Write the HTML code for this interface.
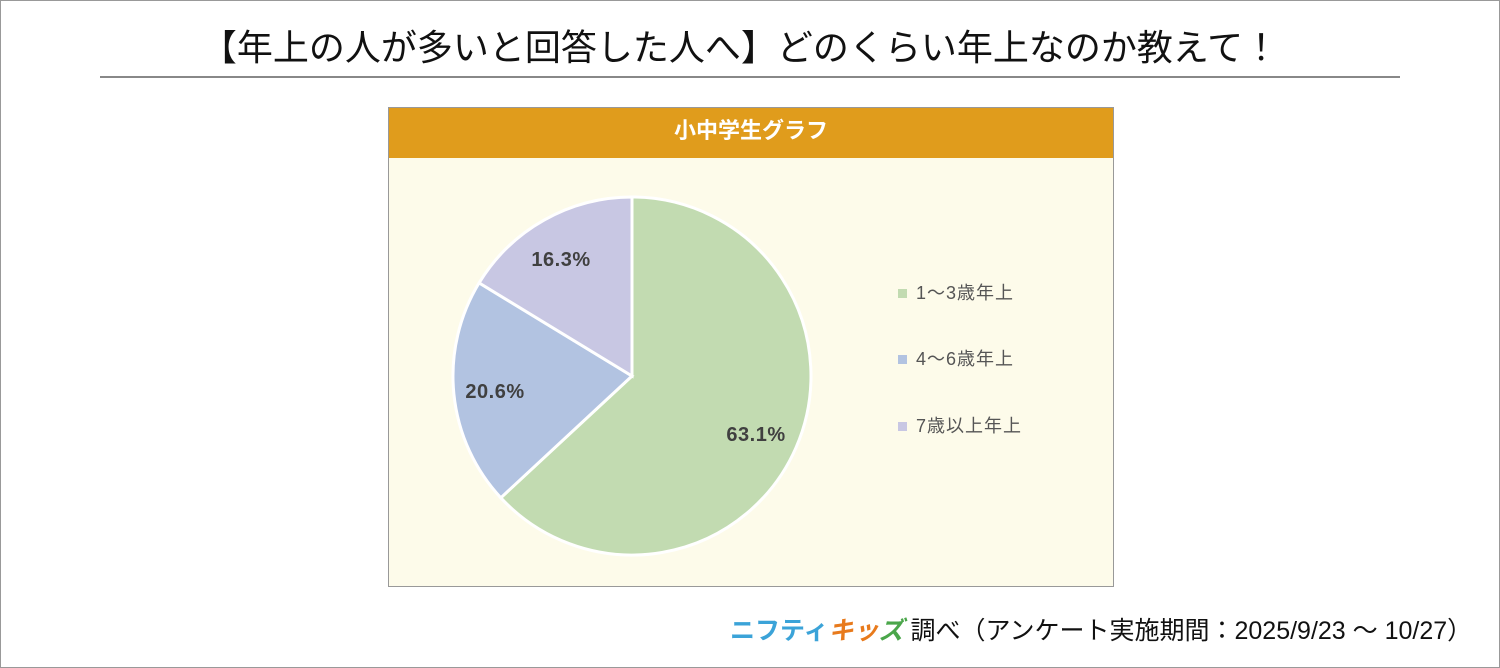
<!DOCTYPE html>
<html><head><meta charset="utf-8"><style>
body{margin:0;width:1500px;height:668px;background:#fff;font-family:"Liberation Sans","Noto Sans CJK JP",sans-serif;position:relative;overflow:hidden}
.frame{position:absolute;left:0;top:0;width:1498px;height:666px;border:1px solid #999}
.title{position:absolute;left:-10px;top:28px;width:1500px;text-align:center;font-size:36px;color:#111;line-height:40px}
.line{position:absolute;left:100px;top:76px;width:1300px;height:2px;background:#888}
.box{position:absolute;left:388px;top:107px;width:724px;height:478px;border:1px solid #999;background:#fdfbea}
.hdr{height:50px;background:#e09c1c;color:#fff;font-weight:bold;font-size:22px;text-align:center;line-height:46px}
.foot{position:absolute;left:730px;top:614px;font-size:25px;color:#111;white-space:nowrap;line-height:34px}
</style></head><body>
<div class="frame"></div>
<div class="title">【年上の人が多いと回答した人へ】どのくらい年上なのか教えて！</div>
<div class="line"></div>
<div class="box"><div class="hdr">小中学生グラフ</div></div>
<svg style="position:absolute;left:0;top:0" width="1500" height="668">
<g stroke="#fff" stroke-width="3">
<path d="M632,376 L632,197 A179,179 0 1 1 500.8,497.8 Z" fill="#c2dbb1"/>
<path d="M632,376 L500.8,497.8 A179,179 0 0 1 479.1,282.9 Z" fill="#b2c3e1"/>
<path d="M632,376 L479.1,282.9 A179,179 0 0 1 632,197 Z" fill="#c8c7e3"/>
</g>
<g font-family="Liberation Sans, sans-serif" font-weight="bold" font-size="20" fill="#404040" text-anchor="middle" letter-spacing="0.5">
<text x="756" y="441">63.1%</text>
<text x="495" y="398">20.6%</text>
<text x="561" y="266">16.3%</text>
</g>
<rect x="898" y="289" width="9" height="9" fill="#c2dbb1"/>
<rect x="898" y="355" width="9" height="9" fill="#b2c3e1"/>
<rect x="898" y="422" width="9" height="9" fill="#c8c7e3"/>
<g font-family="Liberation Sans, Noto Sans CJK JP, sans-serif" font-size="18" fill="#555" letter-spacing="1">
<text x="916" y="299">1～3歳年上</text>
<text x="916" y="365">4～6歳年上</text>
<text x="916" y="432">7歳以上年上</text>
</g>
</svg>
<div class="foot"><span style="color:#3ba3d8;font-weight:bold">ニフティ</span><span style="color:#e87a1c;font-weight:bold;font-style:italic">キッ</span><span style="color:#4aa64a;font-weight:bold;font-style:italic">ズ</span> 調べ（アンケート実施期間：2025/9/23 ～ 10/27）</div>
</body></html>
